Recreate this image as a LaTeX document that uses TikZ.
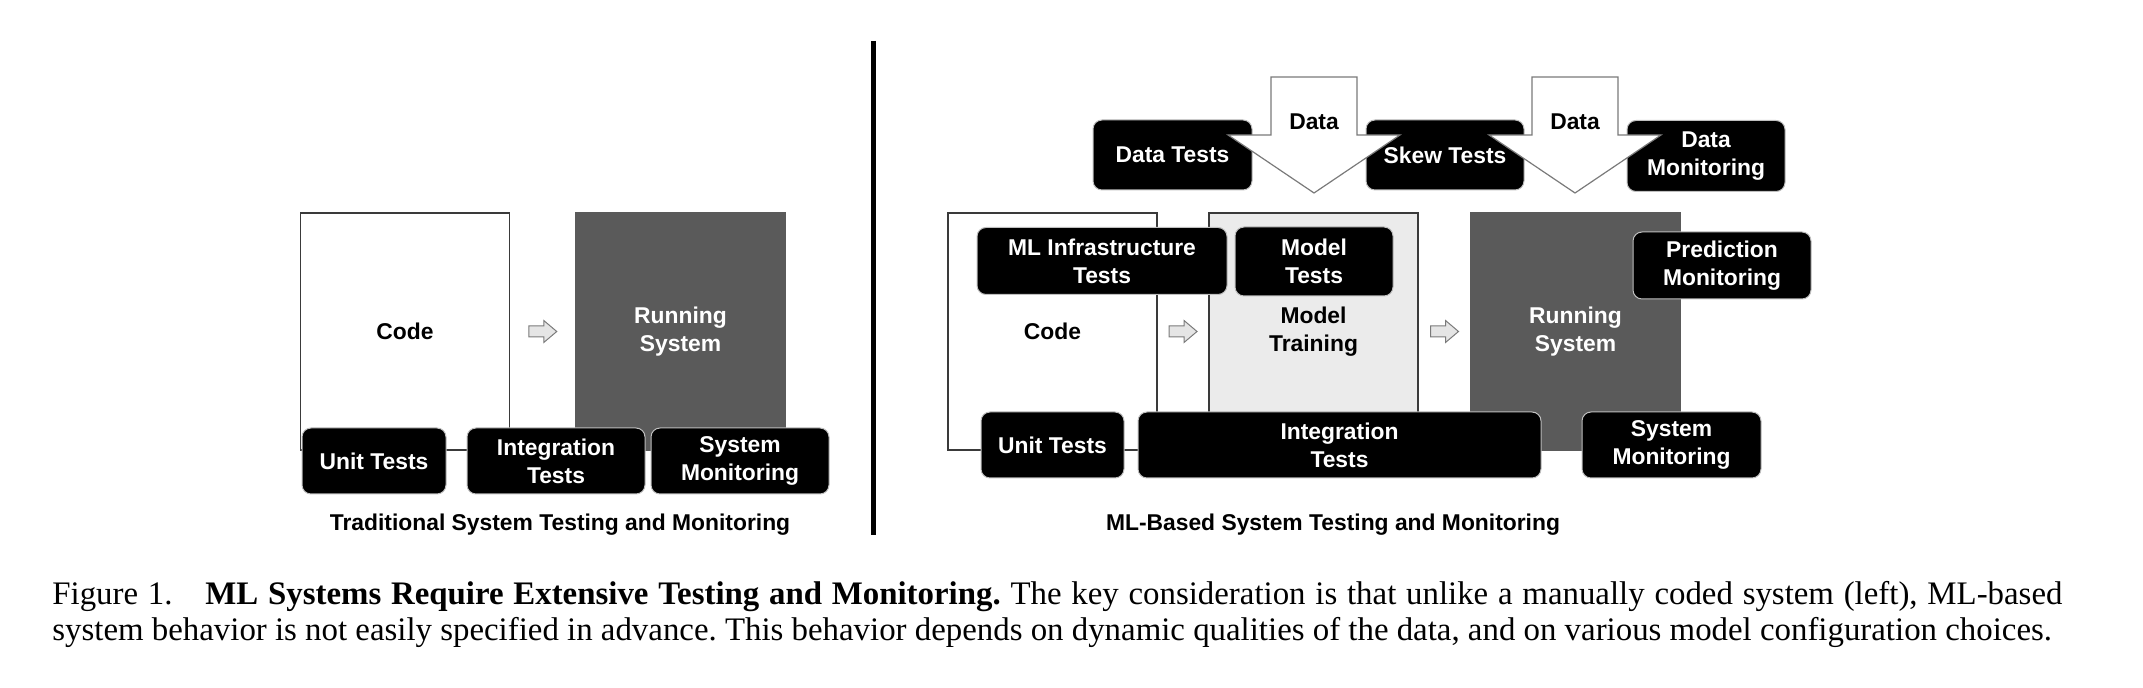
\documentclass[tikz,border=0pt]{standalone}
\usepackage{fontspec}
\setmainfont{Liberation Serif}
\setsansfont{Liberation Sans}
\usepackage{tikz}
\usetikzlibrary{calc}
\definecolor{rungray}{HTML}{5A5A5A}
\definecolor{traingray}{HTML}{EBEBEB}
\definecolor{linegray}{HTML}{3A3A3A}
\definecolor{arrowgray}{HTML}{7A7A7A}
\tikzset{stage/.style={rectangle,draw=linegray,line width=0.15mm,minimum width=20.9mm,minimum height=23.7mm,align=center,inner sep=0pt}}
\tikzset{runbox/.style={fill=rungray,draw=rungray,text=white}}
\tikzset{tst/.style={rectangle,rounded corners=0.9mm,fill=black,draw=gray!50,line width=0.1mm,text=white,align=center,inner sep=0pt,minimum height=6.6mm}}
\tikzset{flow/.style={draw=arrowgray,fill=gray!20,line width=0.1mm}}
\tikzset{datain/.style={draw=arrowgray,fill=white,line width=0.12mm}}
\tikzset{figcap/.style={font=\rmfamily\mdseries\fontsize{9.35}{10.5}\selectfont\frenchspacing,anchor=base west,inner sep=0pt}}

\begin{document}
\begin{tikzpicture}[x=1mm,y=-1mm,font=\sffamily\bfseries\fontsize{6.5}{8}\selectfont]
\useasboundingbox (0,0) rectangle (214.3,68.8);

% traditional system
\node[stage](code1) at (40.5,33.15) {Code};
\node[stage,runbox](run1) at (68.05,33.15) {Running\\System};
\node[tst,minimum width=14.4mm](unit1) at (37.4,46.1) {Unit Tests};
\node[tst,minimum width=17.8mm](integ1) at (55.6,46.1) {Integration\\Tests};
\node[tst,minimum width=17.8mm](sysmon1) at (74.0,46.1) {System\\Monitoring};
\node(title1) at (56.0,52.5) {Traditional System Testing and Monitoring};

\draw[line width=0.5mm] (87.3,4.1) -- (87.3,53.5);

% ml-based system
\node[stage](code2) at (105.25,33.15) {Code};
\node[stage,fill=traingray](train2) at (131.35,33.15) {Model\\Training};
\node[stage,runbox](run2) at (157.55,33.15) {Running\\System};
\node[tst,minimum width=25mm,minimum height=6.7mm](infra2) at (110.2,26.1) {ML Infrastructure\\Tests};
\node[tst,minimum width=15.8mm,minimum height=6.9mm](model2) at (131.4,26.15) {Model\\Tests};
\node[tst,minimum width=17.8mm,minimum height=6.7mm](predmon2) at (172.2,26.55) {Prediction\\Monitoring};
\node[tst,minimum width=14.3mm](unit2) at (105.25,44.5) {Unit Tests};
\node[tst,minimum width=40.3mm](integ2) at (133.95,44.5) {Integration\\Tests};
\node[tst,minimum width=17.9mm](sysmon2) at (167.15,44.5) {System\\Monitoring};
\node[tst,minimum width=15.9mm,minimum height=7mm](datatst2) at (117.25,15.5) {Data Tests};
\node[tst,minimum width=15.8mm,minimum height=7mm](skew2) at (144.5,15.5) {Skew Tests};
\node[tst,minimum width=15.8mm,minimum height=7.1mm](datamon2) at (170.6,15.6) {Data\\Monitoring};
\node(title2) at (133.3,52.5) {ML-Based System Testing and Monitoring};

% small arrows between stages
\foreach \a/\b in {code1/run1,code2/train2,train2/run2}
  \draw[flow,shift={($(\a.east)!0.5!(\b.west)$)}] (-1.4,-0.55) -- (0.1,-0.55) -- (0.1,-1.1) -- (1.4,0) -- (0.1,1.1) -- (0.1,0.55) -- (-1.4,0.55) -- cycle;

% data coming in
\foreach \n/\x in {1/131.4,2/157.5} {
  \draw[datain] (\x-4.3,7.7) -- (\x-4.3,13.5) -- (\x-8.6,13.5) -- (\x,19.3) -- (\x+8.6,13.5) -- (\x+4.3,13.5) -- (\x+4.3,7.7) -- cycle;
  \node(data\n) at (\x,12.2) {Data};
}

\node[figcap](fig1) at (5.17,60.5) {\makebox[201mm][s]{Figure 1.\hspace{1em}\textbf{ML Systems Require Extensive Testing and Monitoring.} The key consideration is that unlike a manually coded system (left), ML-based}};
\node[figcap](fig2) at (5.17,64.1) {system behavior is not easily specified in advance. This behavior depends on dynamic qualities of the data, and on various model configuration choices.};
\end{tikzpicture}
\end{document}
